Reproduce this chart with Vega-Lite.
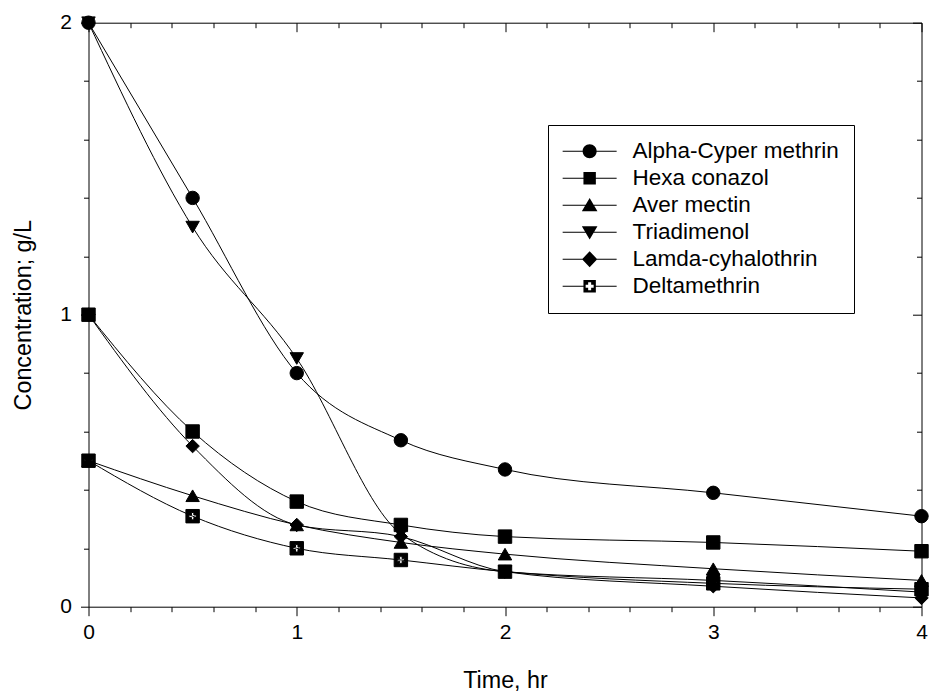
{
  "$schema": "https://vega.github.io/schema/vega-lite/v6.json",
  "width": 833,
  "height": 584,
  "autosize": {"type": "none"},
  "padding": {"left": 88.5, "top": 22.7, "right": 8.5, "bottom": 91.3},
  "background": "white",
  "config": {"view": {"stroke": null}, "font": "Liberation Sans"},
  "data": {
    "values": [
      {"s": "Alpha-Cyper methrin", "t": 0, "c": 2},
      {"s": "Alpha-Cyper methrin", "t": 0.5, "c": 1.4},
      {"s": "Alpha-Cyper methrin", "t": 1, "c": 0.8},
      {"s": "Alpha-Cyper methrin", "t": 1.5, "c": 0.57},
      {"s": "Alpha-Cyper methrin", "t": 2, "c": 0.47},
      {"s": "Alpha-Cyper methrin", "t": 3, "c": 0.39},
      {"s": "Alpha-Cyper methrin", "t": 4, "c": 0.31},
      {"s": "Hexa conazol", "t": 0, "c": 1},
      {"s": "Hexa conazol", "t": 0.5, "c": 0.6},
      {"s": "Hexa conazol", "t": 1, "c": 0.36},
      {"s": "Hexa conazol", "t": 1.5, "c": 0.28},
      {"s": "Hexa conazol", "t": 2, "c": 0.24},
      {"s": "Hexa conazol", "t": 3, "c": 0.22},
      {"s": "Hexa conazol", "t": 4, "c": 0.19},
      {"s": "Aver mectin", "t": 0, "c": 0.5},
      {"s": "Aver mectin", "t": 0.5, "c": 0.38},
      {"s": "Aver mectin", "t": 1, "c": 0.28},
      {"s": "Aver mectin", "t": 1.5, "c": 0.22},
      {"s": "Aver mectin", "t": 2, "c": 0.18},
      {"s": "Aver mectin", "t": 3, "c": 0.13},
      {"s": "Aver mectin", "t": 4, "c": 0.09},
      {"s": "Triadimenol", "t": 0, "c": 2},
      {"s": "Triadimenol", "t": 0.5, "c": 1.3},
      {"s": "Triadimenol", "t": 1, "c": 0.85},
      {"s": "Triadimenol", "t": 1.5, "c": 0.25},
      {"s": "Triadimenol", "t": 2, "c": 0.12},
      {"s": "Triadimenol", "t": 3, "c": 0.09},
      {"s": "Triadimenol", "t": 4, "c": 0.05},
      {"s": "Lamda-cyhalothrin", "t": 0, "c": 1},
      {"s": "Lamda-cyhalothrin", "t": 0.5, "c": 0.55},
      {"s": "Lamda-cyhalothrin", "t": 1, "c": 0.28},
      {"s": "Lamda-cyhalothrin", "t": 1.5, "c": 0.24},
      {"s": "Lamda-cyhalothrin", "t": 2, "c": 0.12},
      {"s": "Lamda-cyhalothrin", "t": 3, "c": 0.07},
      {"s": "Lamda-cyhalothrin", "t": 4, "c": 0.03},
      {"s": "Deltamethrin", "t": 0, "c": 0.5},
      {"s": "Deltamethrin", "t": 0.5, "c": 0.31},
      {"s": "Deltamethrin", "t": 1, "c": 0.2},
      {"s": "Deltamethrin", "t": 1.5, "c": 0.16},
      {"s": "Deltamethrin", "t": 2, "c": 0.12},
      {"s": "Deltamethrin", "t": 3, "c": 0.08},
      {"s": "Deltamethrin", "t": 4, "c": 0.06}
    ]
  },
  "layer": [
    {
      "mark": {"type": "line", "interpolate": "monotone", "color": "black", "strokeWidth": 1},
      "encoding": {
        "x": {
          "field": "t", "type": "quantitative",
          "scale": {"domain": [0, 4], "nice": false, "zero": false},
          "axis": {
            "orient": "bottom",
            "values": [0, 0.2, 0.4, 0.6, 0.8, 1, 1.2, 1.4, 1.6, 1.8, 2, 2.2, 2.4, 2.6, 2.8, 3, 3.2, 3.4, 3.6, 3.8, 4],
            "labelExpr": "datum.value % 1 === 0 ? format(datum.value, 'd') : ''",
            "tickSize": {"condition": {"test": "datum.value % 1 === 0", "value": 9}, "value": 5},
            "title": "Time, hr",
            "grid": false,
            "labelFontSize": 21,
            "titleFontSize": 23.3,
            "titleFontWeight": "normal",
            "labelPadding": 6,
            "titlePadding": 27,
            "domainColor": "black",
            "tickColor": "black",
            "labelColor": "black",
            "titleColor": "black",
            "labelFlush": false,
            "labelOverlap": false
          }
        },
        "y": {
          "field": "c", "type": "quantitative",
          "scale": {"domain": [0, 2], "nice": false, "zero": false},
          "axis": {
            "orient": "left",
            "values": [0, 0.2, 0.4, 0.6, 0.8, 1, 1.2, 1.4, 1.6, 1.8, 2],
            "labelExpr": "datum.value % 1 === 0 ? format(datum.value, 'd') : ''",
            "tickSize": {"condition": {"test": "datum.value % 1 === 0", "value": 8}, "value": 5},
            "title": "Concentration; g/L",
            "grid": false,
            "labelFontSize": 21,
            "titleFontSize": 23.3,
            "titleFontWeight": "normal",
            "labelPadding": 9,
            "titlePadding": 24,
            "domainColor": "black",
            "tickColor": "black",
            "labelColor": "black",
            "titleColor": "black",
            "labelFlush": false,
            "labelOverlap": false
          }
        },
        "detail": {"field": "s", "type": "nominal"}
      }
    },
    {
      "mark": {"type": "point", "filled": true, "fill": "black", "stroke": "black", "strokeWidth": 1, "size": 180, "opacity": 1},
      "encoding": {
        "x": {
          "field": "t", "type": "quantitative",
          "axis": {
            "orient": "top",
            "values": [0, 0.2, 0.4, 0.6, 0.8, 1, 1.2, 1.4, 1.6, 1.8, 2, 2.2, 2.4, 2.6, 2.8, 3, 3.2, 3.4, 3.6, 3.8, 4],
            "labels": false,
            "title": null,
            "grid": false,
            "tickSize": {"condition": {"test": "datum.value % 1 === 0", "value": -9}, "value": -5},
            "domainColor": "black",
            "tickColor": "black"
          }
        },
        "y": {
          "field": "c", "type": "quantitative",
          "axis": {
            "orient": "right",
            "values": [0, 0.2, 0.4, 0.6, 0.8, 1, 1.2, 1.4, 1.6, 1.8, 2],
            "labels": false,
            "title": null,
            "grid": false,
            "tickSize": {"condition": {"test": "datum.value % 1 === 0", "value": -9}, "value": -5},
            "domainColor": "black",
            "tickColor": "black"
          }
        },
        "shape": {
          "field": "s", "type": "nominal",
          "scale": {
            "domain": ["Alpha-Cyper methrin", "Hexa conazol", "Aver mectin", "Triadimenol", "Lamda-cyhalothrin", "Deltamethrin"],
            "range": ["circle", "square", "triangle-up", "triangle-down", "diamond",
              "M-1,-1H1V1H-1Z M-0.18,-0.55V-0.18H-0.55V0.18H-0.18V0.55H0.18V0.18H0.55V-0.18H0.18V-0.55Z"]
          },
          "legend": null
        }
      }
    },
    {
      "transform": [{"filter": "datum.t < 0"}],
      "mark": {"type": "point", "filled": true, "fill": "black"},
      "encoding": {
        "x": {"field": "t", "type": "quantitative", "axis": null},
        "y": {"field": "c", "type": "quantitative", "axis": null},
        "shape": {
          "field": "s", "type": "nominal",
          "scale": {
            "domain": ["Alpha-Cyper methrin", "Hexa conazol", "Aver mectin", "Triadimenol", "Lamda-cyhalothrin", "Deltamethrin"],
            "range": [
              "M-2.455,-0.048H2.455V0.048H-2.455Z M0.636,0A0.636,0.636,0,1,1,-0.636,0A0.636,0.636,0,1,1,0.636,0Z",
              "M-2.455,-0.048H2.455V0.048H-2.455Z M-0.564,-0.564H0.564V0.564H-0.564Z",
              "M-2.455,-0.048H2.455V0.048H-2.455Z M0,-0.664L0.709,0.536H-0.709Z",
              "M-2.455,-0.048H2.455V0.048H-2.455Z M0,0.664L-0.709,-0.536H0.709Z",
              "M-2.455,-0.048H2.455V0.048H-2.455Z M0,-0.736L0.69,0L0,0.736L-0.69,0Z",
              "M-2.455,-0.048H-0.564V0.048H-2.455Z M0.564,-0.048H2.455V0.048H0.564Z M-0.564,-0.564H0.564V0.564H-0.564Z M-0.136,-0.364V-0.136H-0.364V0.136H-0.136V0.364H0.136V0.136H0.364V-0.136H0.136V-0.364Z"
            ]
          },
          "legend": {
            "orient": "none",
            "legendX": 459.5,
            "legendY": 102.3,
            "title": null,
            "strokeColor": "black",
            "fillColor": "white",
            "padding": 15,
            "symbolSize": 484,
            "symbolOffset": 15.4,
            "symbolStrokeWidth": 0,
            "symbolFillColor": "black",
            "symbolOpacity": 1,
            "labelFont": "Liberation Sans",
            "labelFontSize": 22.5,
            "labelColor": "black",
            "labelOffset": 31.6,
            "labelLimit": 400,
            "rowPadding": 4
          }
        }
      }
    }
  ],
  "resolve": {
    "axis": {"x": "independent", "y": "independent"},
    "scale": {"shape": "independent"},
    "legend": {"shape": "independent"}
  }
}
